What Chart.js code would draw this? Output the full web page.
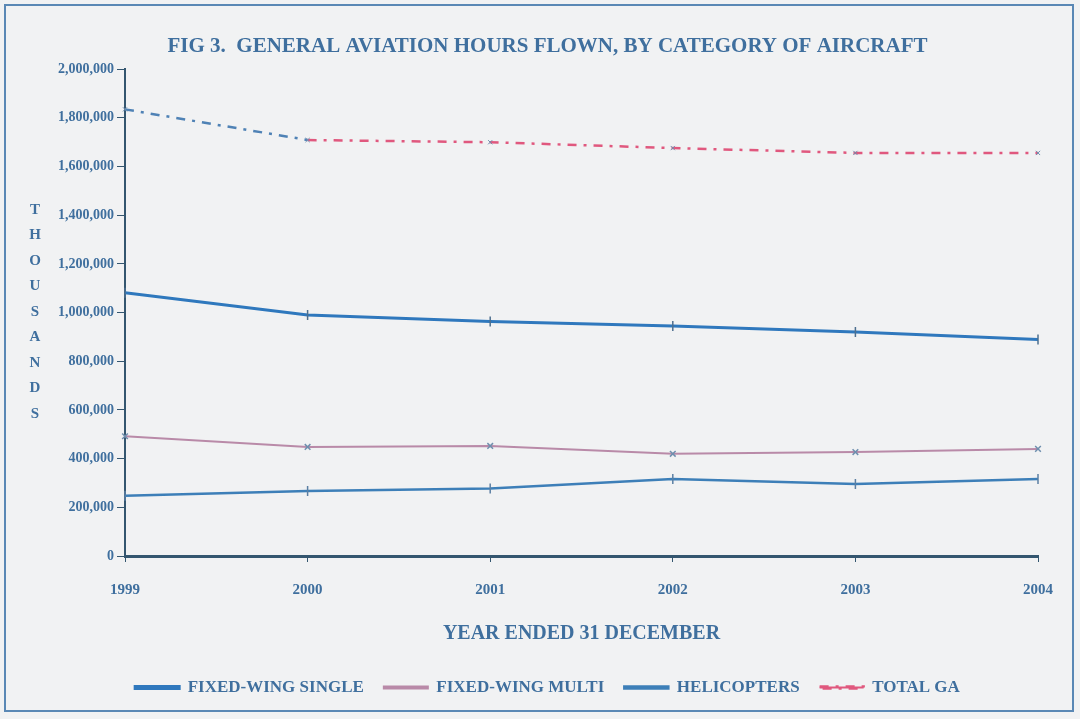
<!DOCTYPE html>
<html>
<head>
<meta charset="utf-8">
<script src="https://cdn.jsdelivr.net/npm/chart.js@4.4.1/dist/chart.umd.min.js"></script>
<style>
  html, body { margin: 0; padding: 0; background: #f1f2f3; }
  #wrap { position: absolute; left: 4px; top: 4px; width: 1070px; height: 708px;
          border: 2px solid #5a88b5; box-sizing: border-box; }
  canvas { display: block; }
</style>
</head>
<body>
<div id="wrap"><canvas id="chart" width="1066" height="704"></canvas></div>
<script>
const years = ["1999", "2000", "2001", "2002", "2003", "2004"];
const fixedSingle = [1082000, 990000, 963000, 945000, 920000, 889000];
const fixedMulti = [492000, 448000, 452000, 420000, 427000, 440000];
const helicopters = [248000, 267000, 277000, 316000, 296000, 316000];
const totalGA = [1835000, 1709000, 1700000, 1676000, 1656000, 1656000];

const ink = "#3f6f9e";
const serif = "'Liberation Serif', 'DejaVu Serif', serif";

// vertical stacked axis caption
const stackedYTitle = {
  id: "stackedYTitle",
  afterDraw(chart) {
    const ctx = chart.ctx;
    const letters = "THOUSANDS".split("");
    ctx.save();
    ctx.fillStyle = ink;
    ctx.font = "bold 15px " + serif;
    ctx.textAlign = "center";
    ctx.textBaseline = "middle";
    letters.forEach((ch, i) => {
      ctx.fillText(ch, 29, 204 + i * 25.5);
    });
    ctx.restore();
  }
};

new Chart(document.getElementById("chart"), {
  type: "line",
  data: {
    labels: years,
    datasets: [
      {
        label: "FIXED-WING SINGLE",
        data: fixedSingle,
        borderColor: "#2f78bd",
        backgroundColor: "#2f78bd",
        borderWidth: 3,
        pointStyle: "line",
        rotation: 90,
        pointRadius: 5,
        pointBorderColor: "#4d6f8f",
        pointBorderWidth: 1.5
      },
      {
        label: "FIXED-WING MULTI",
        data: fixedMulti,
        borderColor: "#b98aa8",
        backgroundColor: "#b98aa8",
        borderWidth: 2,
        pointStyle: "crossRot",
        pointRadius: 4,
        pointBorderColor: "#6f8fae",
        pointBorderWidth: 1.5
      },
      {
        label: "HELICOPTERS",
        data: helicopters,
        borderColor: "#3d7fb8",
        backgroundColor: "#3d7fb8",
        borderWidth: 2.5,
        pointStyle: "line",
        rotation: 90,
        pointRadius: 5,
        pointBorderColor: "#5b7fa3",
        pointBorderWidth: 1.5
      },
      {
        label: "TOTAL GA",
        data: totalGA,
        borderColor: "#e0587e",
        backgroundColor: "#e0587e",
        borderWidth: 2.5,
        borderDash: [9, 7, 3, 7],
        pointStyle: "crossRot",
        pointRadius: 3,
        pointBorderColor: "#6f8fae",
        pointBorderWidth: 1,
        segment: {
          borderColor: c => c.p0DataIndex === 0 ? "#4f82b5" : undefined
        }
      }
    ]
  },
  options: {
    responsive: false,
    animation: false,
    layout: { padding: { left: 49, right: 32, top: 6, bottom: 4 } },
    plugins: {
      title: {
        display: true,
        text: "FIG 3.  GENERAL AVIATION HOURS FLOWN, BY CATEGORY OF AIRCRAFT",
        color: ink,
        font: { family: serif, size: 21, weight: "bold" },
        padding: { top: 22, bottom: 10 }
      },
      legend: {
        position: "bottom",
        labels: {
          color: ink,
          font: { family: serif, size: 17, weight: "bold" },
          boxWidth: 44,
          boxHeight: 2,
          padding: 20
        }
      },
      tooltip: { enabled: false }
    },
    scales: {
      x: {
        offset: false,
        border: { color: "#34566f", width: 3 },
        grid: { drawOnChartArea: false, drawTicks: true, tickLength: 6, color: "#34566f" },
        ticks: { color: ink, font: { family: serif, size: 15, weight: "bold" }, padding: 19 },
        title: {
          display: true,
          text: "YEAR ENDED 31 DECEMBER",
          color: ink,
          font: { family: serif, size: 20, weight: "bold" },
          padding: { top: 4, bottom: 13 }
        }
      },
      y: {
        min: 0,
        max: 2000000,
        border: { color: "#34566f", width: 2 },
        grid: { drawOnChartArea: false, drawTicks: true, tickLength: 8, color: "#34566f" },
        ticks: {
          stepSize: 200000,
          color: ink,
          font: { family: serif, size: 14, weight: "bold" },
          padding: 3,
          callback: v => v.toLocaleString("en-US")
        }
      }
    }
  },
  plugins: [stackedYTitle]
});
</script>
</body>
</html>
